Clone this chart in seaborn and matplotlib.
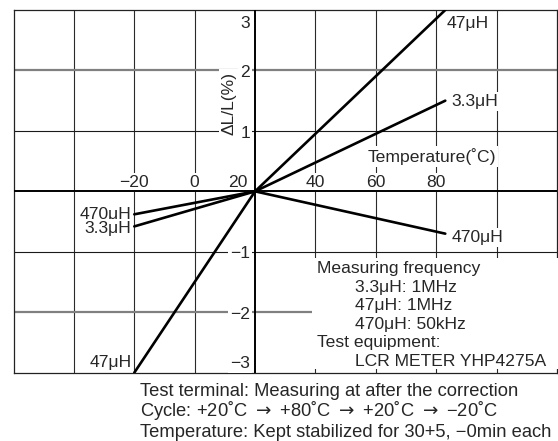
import numpy as np
import pandas as pd
import seaborn as sns
import matplotlib.pyplot as plt
from matplotlib.patches import Rectangle

# Datos (ΔL/L en % frente a temperatura)
temps = [-20, 20, 83]
dl_3u3 = [-0.58, 0.0, 1.50]
dl_47u = [-3.0, 0.0, 3.0]
dl_470u = [-0.38, 0.0, -0.70]
series = ['3.3μH', '47μH', '470μH']

x_ticks = [-20, 0, 20, 40, 60, 80]
y_ticks = [3, 2, 1, -1, -2, -3]
x_grid = [-40, -20, 0, 40, 60, 80, 100]
y_grid = [-2, -1, 1, 2]

freq_lines = ['Measuring frequency', '3.3μH: 1MHz', '47μH: 1MHz', '470μH: 50kHz',
              'Test equipment:', 'LCR METER YHP4275A']
notes = ['Test terminal: Measuring at after the correction',
         r'Cycle: +20˚C $\rightarrow$ +80˚C $\rightarrow$ +20˚C $\rightarrow$ −20˚C',
         'Temperature: Kept stabilized for 30+5, −0min each']

df = pd.DataFrame({
    'temp': temps * 3,
    'dl': dl_3u3 + dl_47u + dl_470u,
    'ind': np.repeat(series, len(temps)),
})

sns.set_style('white')
plt.rcParams['font.family'] = ['Liberation Sans', 'DejaVu Sans']
fs = 12.6

fig = plt.figure(figsize=(5.58, 4.41), dpi=100)
ax = fig.add_axes([13.5 / 558, 1 - 372.7 / 441, 543.5 / 558, 362.7 / 441])

# Rejilla
for x in x_grid:
    ax.axvline(x, color='#2a2a2a', lw=0.8, zorder=1)
for y in y_grid:
    if abs(y) == 2:
        ax.axhline(y, color='#808080', lw=1.6, zorder=1)
    else:
        ax.axhline(y, color='#1a1a1a', lw=0.8, zorder=1)
ax.axvline(20, color='black', lw=1.4, zorder=3.5)
ax.axhline(0, color='black', lw=1.4, zorder=3.5)

sns.lineplot(data=df, x='temp', y='dl', hue='ind', palette=['black'] * 3,
             legend=False, lw=1.9, ax=ax, zorder=4)

ax.set_xlim(-60, 120)
ax.set_ylim(-3, 3)
ax.set_xticks([])
ax.set_yticks([])
ax.set_xlabel('')
ax.set_ylabel('')
for s in ax.spines.values():
    s.set_color('#222222')
    s.set_linewidth(0.9)

wbox = dict(facecolor='white', edgecolor='none', pad=1.5)

# Etiquetas de ejes dentro del grafico
for t in x_ticks:
    xpos = 14.4 if t == 20 else t
    lab = str(t).replace('-', '−')
    ax.text(xpos, 0.07, lab, ha='center', va='baseline', fontsize=fs, bbox=wbox, zorder=3)
y_base = {3: 2.70, 2: 1.89, 1: 0.88, -1: -1.10, -2: -2.11, -3: -2.92}
for t in y_ticks:
    lab = str(t).replace('-', '−')
    ax.text(18.4, y_base[t], lab, ha='right', va='baseline', fontsize=fs, bbox=wbox, zorder=3)

ax.text(11.4, 1.46, 'ΔL/L(%)', rotation=90, ha='center', va='center', fontsize=fs,
        bbox=wbox, zorder=3)
ax.text(99.8, 0.49, 'Temperature(˚C)', ha='right', va='baseline', fontsize=fs,
        bbox=wbox, zorder=3)

# Nombres de series
ax.text(83.3, 2.70, '47μH', ha='left', va='baseline', fontsize=fs, bbox=wbox, zorder=5)
ax.text(85.0, 1.41, '3.3μH', ha='left', va='baseline', fontsize=fs, bbox=wbox, zorder=5)
ax.text(85.0, -0.84, '470μH', ha='left', va='baseline', fontsize=fs, bbox=wbox, zorder=5)
ax.text(-21.0, -0.46, '470μH', ha='right', va='baseline', fontsize=fs, bbox=wbox, zorder=5)
ax.text(-21.0, -0.69, '3.3μH', ha='right', va='baseline', fontsize=fs, bbox=wbox, zorder=5)
ax.text(-21.0, -2.91, '47μH', ha='right', va='baseline', fontsize=fs, bbox=wbox, zorder=5)

# Bloque de condiciones de medida
ax.add_patch(Rectangle((38.9, -2.94), 82, 1.84, facecolor='white', edgecolor='none',
                       zorder=2.6, clip_on=False))
block_y = [-1.35, -1.66, -1.97, -2.28, -2.57, -2.89]
block_x = [40.5, 53.1, 53.1, 53.1, 40.5, 53.1]
for txt, bx, by in zip(freq_lines, block_x, block_y):
    ax.text(bx, by, txt, ha='left', va='baseline', fontsize=fs, zorder=3)

# Notas debajo
for i, txt in enumerate(notes):
    fig.text(140 / 558, 1 - (395.7 + 20.6 * i) / 441, txt, ha='left', va='baseline',
             fontsize=13.2)

fig.savefig('out.png', dpi=100)
